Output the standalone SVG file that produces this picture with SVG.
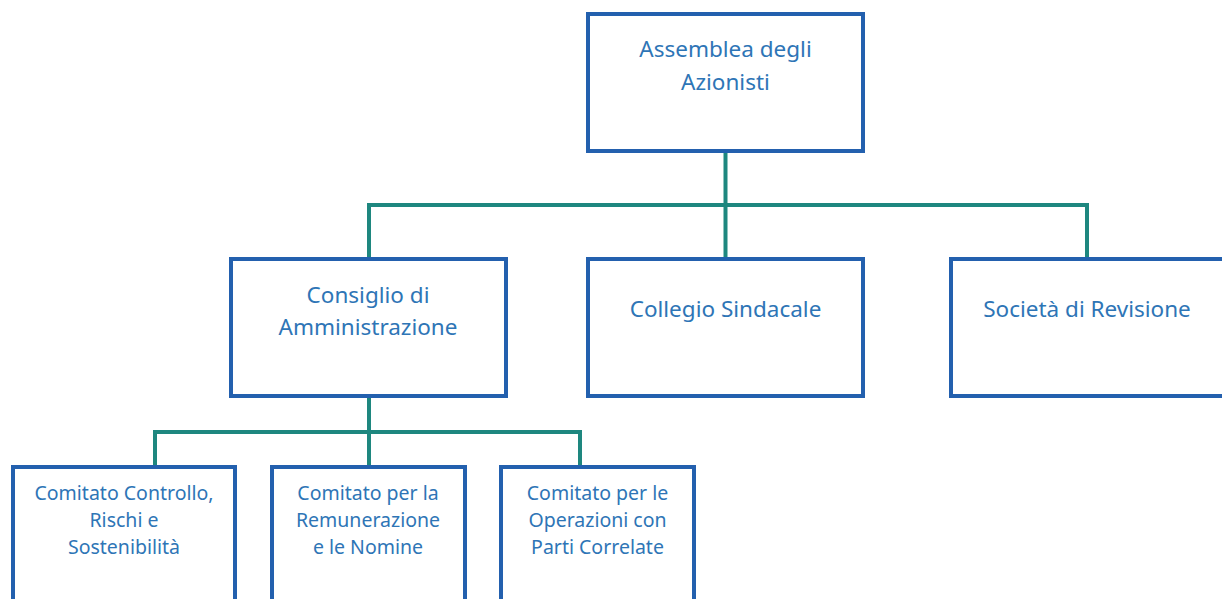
<svg xmlns="http://www.w3.org/2000/svg" width="1222" height="599" viewBox="0 0 1222 599">
<style>
.box{fill:#fff;stroke:#2360AE;stroke-width:4}
.conn{fill:none;stroke:#1E877F;stroke-width:4}
.t{font-family:"Noto Sans","Open Sans",sans-serif;fill:#2E75B6;text-anchor:middle}
.l{font-size:22.5px}
.s{font-size:19.5px}
</style>
<rect width="1222" height="599" fill="#fff"/>
<g id="connectors">
<path class="conn" d="M725.5 152V257M369 205H1087M369 203V258M1087 203V258"/>
<path class="conn" d="M369 397V466M155 432H580M155 430V466M580 430V466"/>
</g>
<g id="assemblea">
<rect class="box" x="588" y="14" width="275" height="137"/>
<text class="t l" x="725.5" y="57">Assemblea degli</text>
<text class="t l" x="725.5" y="90">Azionisti</text>
</g>
<g id="consiglio">
<rect class="box" x="231" y="259" width="275" height="137"/>
<text class="t l" x="368" y="303">Consiglio di</text>
<text class="t l" x="368" y="335">Amministrazione</text>
</g>
<g id="collegio">
<rect class="box" x="588" y="259" width="275" height="137"/>
<text class="t l" x="725.5" y="317">Collegio Sindacale</text>
</g>
<g id="societa">
<rect class="box" x="951" y="259" width="275" height="137"/>
<text class="t l" x="1087" y="317">Società di Revisione</text>
</g>
<g id="comitato-controllo">
<rect class="box" x="13" y="467" width="222" height="150"/>
<text class="t s" x="124" y="500">Comitato Controllo,</text>
<text class="t s" x="124" y="527">Rischi e</text>
<text class="t s" x="124" y="554">Sostenibilità</text>
</g>
<g id="comitato-remunerazione">
<rect class="box" x="272" y="467" width="193" height="150"/>
<text class="t s" x="368" y="500">Comitato per la</text>
<text class="t s" x="368" y="527">Remunerazione</text>
<text class="t s" x="368" y="554">e le Nomine</text>
</g>
<g id="comitato-parti-correlate">
<rect class="box" x="501" y="467" width="193" height="150"/>
<text class="t s" x="597.5" y="500">Comitato per le</text>
<text class="t s" x="597.5" y="527">Operazioni con</text>
<text class="t s" x="597.5" y="554">Parti Correlate</text>
</g>
</svg>
